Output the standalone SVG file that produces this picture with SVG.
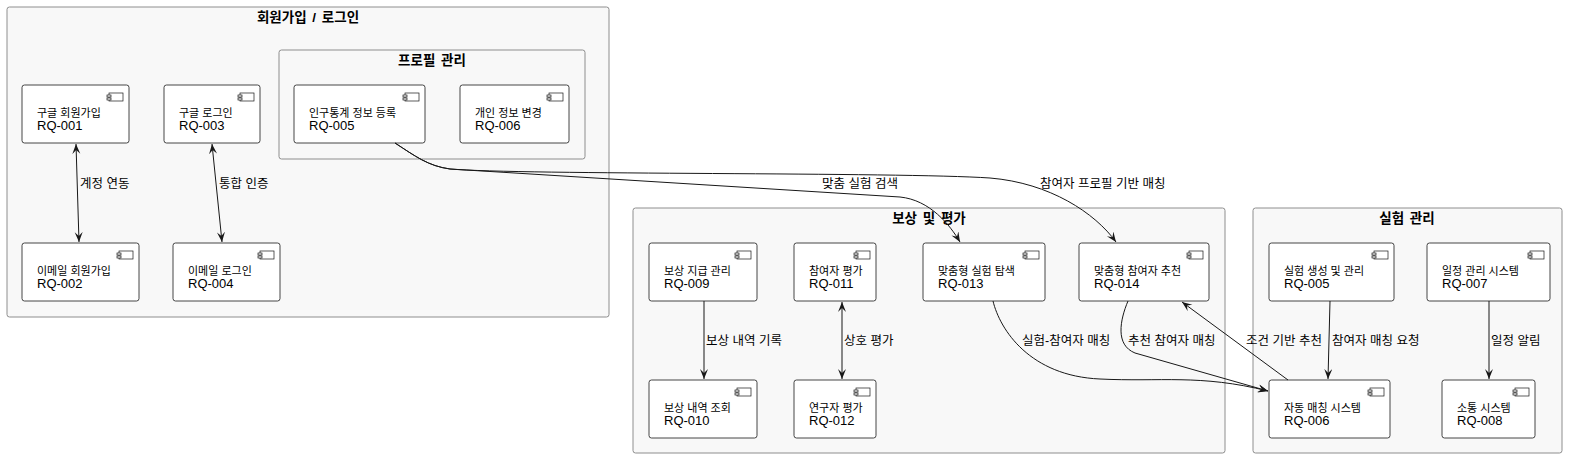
<svg xmlns="http://www.w3.org/2000/svg" width="1570" height="459" viewBox="0 0 1570 459">
<style>
text{font-family:"Liberation Sans","Noto Sans CJK KR",sans-serif;fill:#000}
.pkg{fill:#f8f8f8;stroke:#8e8e8e;stroke-width:1}
.pt{font-size:13.5px;font-weight:bold;text-anchor:middle;word-spacing:2px}
.node rect.b{fill:#fff;stroke:#181818;stroke-width:0.8}
.ic{fill:#fff;stroke:#181818;stroke-width:0.7}
.nk{font-size:11px}
.nt{font-size:13px}
.e{fill:none;stroke:#181818;stroke-width:1}
.lb{font-size:12.5px}
</style>
<defs>
<marker id="ah" markerUnits="userSpaceOnUse" markerWidth="12" markerHeight="10" refX="10" refY="4" orient="auto-start-reverse" viewBox="0 0 12 10">
<path d="M0,0 L10,4 L0,8 L4,4 Z" fill="#181818"/>
</marker>
<g id="icon">
<rect class="ic" x="-20" y="8" width="14" height="8"/>
<rect class="ic" x="-22" y="10" width="4" height="2"/>
<rect class="ic" x="-22" y="13" width="4" height="2"/>
</g>
</defs>

<g id="packages">
<rect id="pkg-signup" class="pkg" x="7" y="7" width="602" height="310" rx="2.5"/>
<text class="pt" x="308" y="22">회원가입 / 로그인</text>
<rect id="pkg-profile" class="pkg" x="279" y="50" width="306" height="109" rx="2.5"/>
<text class="pt" x="432" y="65">프로필 관리</text>
<rect id="pkg-reward" class="pkg" x="633" y="208" width="592" height="245" rx="2.5"/>
<text class="pt" x="929" y="223">보상 및 평가</text>
<rect id="pkg-exp" class="pkg" x="1253" y="208" width="309" height="245" rx="2.5"/>
<text class="pt" x="1407" y="223">실험 관리</text>
</g>

<g id="n-rq001" class="node"><rect class="b" x="22" y="85" width="107" height="58" rx="2.5"/><use href="#icon" x="129" y="85"/><text class="nk" x="37" y="117">구글 회원가입</text><text class="nt" x="37" y="130">RQ-001</text></g>
<g id="n-rq003" class="node"><rect class="b" x="164" y="85" width="96" height="58" rx="2.5"/><use href="#icon" x="260" y="85"/><text class="nk" x="179" y="117">구글 로그인</text><text class="nt" x="179" y="130">RQ-003</text></g>
<g id="n-rq005a" class="node"><rect class="b" x="294" y="85" width="131" height="58" rx="2.5"/><use href="#icon" x="425" y="85"/><text class="nk" x="309" y="117">인구통계 정보 등록</text><text class="nt" x="309" y="130">RQ-005</text></g>
<g id="n-rq006a" class="node"><rect class="b" x="460" y="85" width="109" height="58" rx="2.5"/><use href="#icon" x="569" y="85"/><text class="nk" x="475" y="117">개인 정보 변경</text><text class="nt" x="475" y="130">RQ-006</text></g>
<g id="n-rq002" class="node"><rect class="b" x="22" y="243" width="117" height="58" rx="2.5"/><use href="#icon" x="139" y="243"/><text class="nk" x="37" y="275">이메일 회원가입</text><text class="nt" x="37" y="288">RQ-002</text></g>
<g id="n-rq004" class="node"><rect class="b" x="173" y="243" width="107" height="58" rx="2.5"/><use href="#icon" x="280" y="243"/><text class="nk" x="188" y="275">이메일 로그인</text><text class="nt" x="188" y="288">RQ-004</text></g>

<g id="n-rq009" class="node"><rect class="b" x="649" y="243" width="108" height="58" rx="2.5"/><use href="#icon" x="757" y="243"/><text class="nk" x="664" y="275">보상 지급 관리</text><text class="nt" x="664" y="288">RQ-009</text></g>
<g id="n-rq011" class="node"><rect class="b" x="794" y="243" width="82" height="58" rx="2.5"/><use href="#icon" x="876" y="243"/><text class="nk" x="809" y="275">참여자 평가</text><text class="nt" x="809" y="288">RQ-011</text></g>
<g id="n-rq013" class="node"><rect class="b" x="923" y="243" width="122" height="58" rx="2.5"/><use href="#icon" x="1045" y="243"/><text class="nk" x="938" y="275">맞춤형 실험 탐색</text><text class="nt" x="938" y="288">RQ-013</text></g>
<g id="n-rq014" class="node"><rect class="b" x="1079" y="243" width="130" height="58" rx="2.5"/><use href="#icon" x="1209" y="243"/><text class="nk" x="1094" y="275">맞춤형 참여자 추천</text><text class="nt" x="1094" y="288">RQ-014</text></g>
<g id="n-rq010" class="node"><rect class="b" x="649" y="380" width="108" height="58" rx="2.5"/><use href="#icon" x="757" y="380"/><text class="nk" x="664" y="412">보상 내역 조회</text><text class="nt" x="664" y="425">RQ-010</text></g>
<g id="n-rq012" class="node"><rect class="b" x="794" y="380" width="82" height="58" rx="2.5"/><use href="#icon" x="876" y="380"/><text class="nk" x="809" y="412">연구자 평가</text><text class="nt" x="809" y="425">RQ-012</text></g>

<g id="n-rq005b" class="node"><rect class="b" x="1269" y="243" width="125" height="58" rx="2.5"/><use href="#icon" x="1394" y="243"/><text class="nk" x="1284" y="275">실험 생성 및 관리</text><text class="nt" x="1284" y="288">RQ-005</text></g>
<g id="n-rq007" class="node"><rect class="b" x="1427" y="243" width="123" height="58" rx="2.5"/><use href="#icon" x="1550" y="243"/><text class="nk" x="1442" y="275">일정 관리 시스템</text><text class="nt" x="1442" y="288">RQ-007</text></g>
<g id="n-rq006b" class="node"><rect class="b" x="1269" y="380" width="121" height="58" rx="2.5"/><use href="#icon" x="1390" y="380"/><text class="nk" x="1284" y="412">자동 매칭 시스템</text><text class="nt" x="1284" y="425">RQ-006</text></g>
<g id="n-rq008" class="node"><rect class="b" x="1442" y="380" width="93" height="58" rx="2.5"/><use href="#icon" x="1535" y="380"/><text class="nk" x="1457" y="412">소통 시스템</text><text class="nt" x="1457" y="425">RQ-008</text></g>

<g id="connectors">
<path class="e" d="M76,144 L79,242" marker-start="url(#ah)" marker-end="url(#ah)"/>
<text class="lb" x="80" y="188">계정 연동</text>
<path class="e" d="M212,144 L222,242" marker-start="url(#ah)" marker-end="url(#ah)"/>
<text class="lb" x="219" y="188">통합 인증</text>
<path class="e" d="M395,143 C415,156 428,166 450,169 L900,197 C930,200 950,225 960,242" marker-end="url(#ah)"/>
<text class="lb" x="822" y="188">맞춤 실험 검색</text>
<path class="e" d="M395,143 C415,156 428,166 450,169 C520,175 900,172 990,178 C1050,183 1095,213 1116,242" marker-end="url(#ah)"/>
<text class="lb" x="1040" y="188">참여자 프로필 기반 매칭</text>
<path class="e" d="M704,301 L704,379" marker-end="url(#ah)"/>
<text class="lb" x="706" y="345">보상 내역 기록</text>
<path class="e" d="M842,302 L842,379" marker-start="url(#ah)" marker-end="url(#ah)"/>
<text class="lb" x="844" y="345">상호 평가</text>
<path class="e" d="M993,301 C1000,330 1030,376 1100,379 C1160,382 1200,374 1268,391" marker-end="url(#ah)"/>
<text class="lb" x="1022" y="345">실험-참여자 매칭</text>
<path class="e" d="M1128,301 C1120,320 1115,345 1135,353 L1268,391" marker-end="url(#ah)"/>
<text class="lb" x="1128" y="345">추천 참여자 매칭</text>
<path class="e" d="M1288,380 L1182,302" marker-end="url(#ah)"/>
<text class="lb" x="1246" y="345">조건 기반 추천</text>
<path class="e" d="M1330,301 L1328,379" marker-end="url(#ah)"/>
<text class="lb" x="1332" y="345">참여자 매칭 요청</text>
<path class="e" d="M1489,301 L1489,379" marker-end="url(#ah)"/>
<text class="lb" x="1491" y="345">일정 알림</text>
</g>
</svg>
